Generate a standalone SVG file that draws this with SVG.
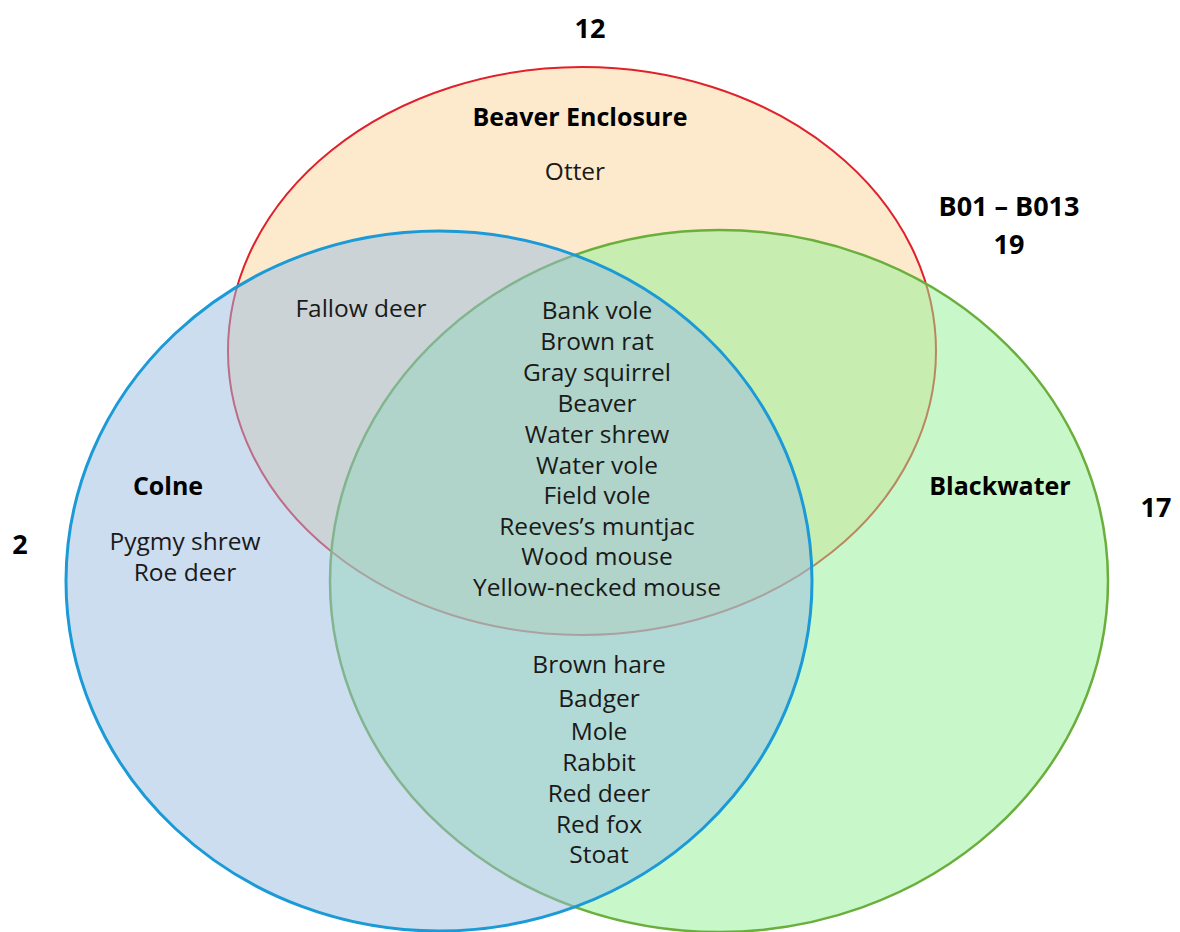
<svg xmlns="http://www.w3.org/2000/svg" width="1180" height="932" viewBox="0 0 1180 932">
<style>
.t{font-family:"Open Sans","Liberation Sans",sans-serif;font-size:24.5px;fill:#1a1a1a;text-anchor:middle}
.b{font-family:"Open Sans","Liberation Sans",sans-serif;font-size:25px;font-weight:bold;fill:#000;text-anchor:middle}
.n{font-family:"Open Sans","Liberation Sans",sans-serif;font-size:27px;font-weight:bold;fill:#000;text-anchor:middle}
</style>
<rect width="1180" height="932" fill="#fff"/>
<g id="beaver-enclosure">
<ellipse cx="582" cy="351" rx="354" ry="284" fill="rgba(251,213,153,0.5)" stroke="#e0202a" stroke-width="2"/>
</g>
<g id="blackwater">
<ellipse cx="719" cy="581" rx="389" ry="351" fill="rgba(145,239,149,0.5)" stroke="#6aaf3c" stroke-width="2.5"/>
</g>
<g id="colne">
<ellipse cx="439" cy="581" rx="373" ry="350" fill="rgba(153,187,225,0.5)" stroke="#1a9ad6" stroke-width="3"/>
</g>
<g id="labels">
<text class="n" x="590" y="38">12</text>
<text class="b" x="580" y="126">Beaver Enclosure</text>
<text class="t" x="575" y="180">Otter</text>
<text class="n" x="1009" y="216">B01 – B013</text>
<text class="n" x="1009" y="254">19</text>
<text class="t" x="361" y="317">Fallow deer</text>
<text class="b" x="168" y="495">Colne</text>
<text class="t" x="185" y="550">Pygmy shrew</text>
<text class="t" x="185" y="581">Roe deer</text>
<text class="n" x="20" y="554">2</text>
<text class="b" x="1000" y="495">Blackwater</text>
<text class="n" x="1156" y="517">17</text>
</g>
<g id="all-three">
<text class="t" x="597" y="319">Bank vole</text>
<text class="t" x="597" y="350">Brown rat</text>
<text class="t" x="597" y="381">Gray squirrel</text>
<text class="t" x="597" y="412">Beaver</text>
<text class="t" x="597" y="443">Water shrew</text>
<text class="t" x="597" y="474">Water vole</text>
<text class="t" x="597" y="504">Field vole</text>
<text class="t" x="597" y="535">Reeves’s muntjac</text>
<text class="t" x="597" y="565">Wood mouse</text>
<text class="t" x="597" y="596">Yellow-necked mouse</text>
</g>
<g id="colne-blackwater">
<text class="t" x="599" y="673">Brown hare</text>
<text class="t" x="599" y="707">Badger</text>
<text class="t" x="599" y="740">Mole</text>
<text class="t" x="599" y="771">Rabbit</text>
<text class="t" x="599" y="802">Red deer</text>
<text class="t" x="599" y="833">Red fox</text>
<text class="t" x="599" y="863">Stoat</text>
</g>
<g id="connectors"/>
</svg>
